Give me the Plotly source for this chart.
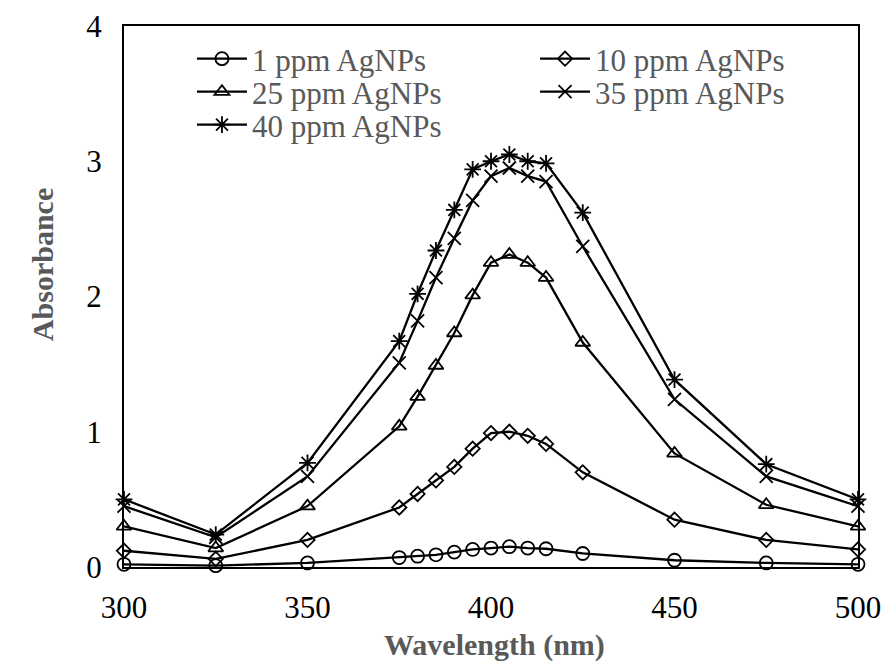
import plotly.graph_objects as go

wavelength = [300, 325, 350, 375, 380, 385, 390, 395, 400, 405, 410, 415, 425, 450, 475, 500]

abs_1ppm = [0.02, 0.01, 0.03, 0.07, 0.08, 0.09, 0.11, 0.13, 0.14, 0.15, 0.14, 0.135, 0.10, 0.05, 0.03, 0.02]
abs_10ppm = [0.12, 0.06, 0.20, 0.44, 0.54, 0.64, 0.74, 0.875, 0.99, 1.00, 0.97, 0.91, 0.70, 0.35, 0.20, 0.13]
abs_25ppm = [0.30, 0.14, 0.45, 1.04, 1.26, 1.49, 1.73, 2.01, 2.25, 2.31, 2.25, 2.14, 1.66, 0.84, 0.46, 0.30]
abs_35ppm = [0.45, 0.22, 0.67, 1.51, 1.82, 2.14, 2.43, 2.71, 2.89, 2.95, 2.89, 2.85, 2.37, 1.24, 0.67, 0.45]
abs_40ppm = [0.50, 0.24, 0.77, 1.67, 2.02, 2.34, 2.64, 2.94, 3.00, 3.05, 3.00, 2.985, 2.62, 1.385, 0.76, 0.50]

series_names = ["1 ppm AgNPs", "10 ppm AgNPs", "25 ppm AgNPs", "35 ppm AgNPs", "40 ppm AgNPs"]
series_values = [abs_1ppm, abs_10ppm, abs_25ppm, abs_35ppm, abs_40ppm]
symbols = ["circle-open", "diamond-open", "triangle-up-open", "x-thin-open", "asterisk-open"]
sizes = [13, 11, 13, 13, 14]
legend_ids = ["legend", "legend2", "legend3", "legend4", "legend5"]

x_ticks = [300, 350, 400, 450, 500]
y_ticks = [0, 1, 2, 3, 4]

FONT = "Liberation Serif, Times New Roman, serif"
GRAY = "#595959"

fig = go.Figure()
for name, vals, sym, sz, lg in zip(series_names, series_values, symbols, sizes, legend_ids):
    fig.add_trace(go.Scatter(
        x=wavelength, y=vals, name=name, mode="lines+markers",
        line=dict(color="black", width=2.3),
        marker=dict(symbol=sym, size=sz, color="black",
                    line=dict(color="black", width=1.8)),
        cliponaxis=False, legend=lg,
    ))

def one_legend(xpos, ypos):
    return dict(
        orientation="h", x=xpos, y=ypos, xanchor="left", yanchor="middle",
        font=dict(family=FONT, size=31, color=GRAY),
        itemwidth=50, bgcolor="rgba(0,0,0,0)", borderwidth=0,
    )

COL1, COL2 = 0.0926, 0.560
ROW1, ROW2, ROW3 = 0.939, 0.878, 0.817

fig.update_layout(
    width=885, height=664,
    margin=dict(l=124, r=27, t=26, b=97),
    paper_bgcolor="white", plot_bgcolor="white",
    font=dict(family=FONT, color="black"),
    showlegend=True,
    legend=one_legend(COL1, ROW1),
    legend2=one_legend(COL2, ROW1),
    legend3=one_legend(COL1, ROW2),
    legend4=one_legend(COL2, ROW2),
    legend5=one_legend(COL1, ROW3),
    xaxis=dict(
        range=[300, 500], tickvals=x_ticks, ticktext=[str(v) for v in x_ticks],
        showgrid=False, zeroline=False, showline=True, linecolor="black",
        linewidth=2, mirror=True, ticks="", ticklabelstandoff=12,
        automargin=False,
        tickfont=dict(family=FONT, size=31, color="black"),
    ),
    yaxis=dict(
        range=[0, 4], tickvals=y_ticks, ticktext=[str(v) for v in y_ticks],
        showgrid=False, zeroline=False, showline=True, linecolor="black",
        linewidth=2, mirror=True, ticks="", ticklabelstandoff=14,
        automargin=False,
        tickfont=dict(family=FONT, size=31, color="black"),
    ),
    annotations=[
        dict(text="<b>Wavelength (nm)</b>", xref="paper", yref="paper",
             x=0.5054, y=-0.144, xanchor="center", yanchor="middle",
             showarrow=False, font=dict(family=FONT, size=30, color=GRAY)),
        dict(text="<b>Absorbance</b>", xref="paper", yref="paper",
             x=-0.1117, y=0.558, xanchor="center", yanchor="middle",
             textangle=-90, showarrow=False,
             font=dict(family=FONT, size=30, color=GRAY)),
    ],
)

fig.write_html(
    "out.html",
    config={"displayModeBar": False},
    post_script="document.body.style.margin='0';document.body.style.padding='0';",
)
